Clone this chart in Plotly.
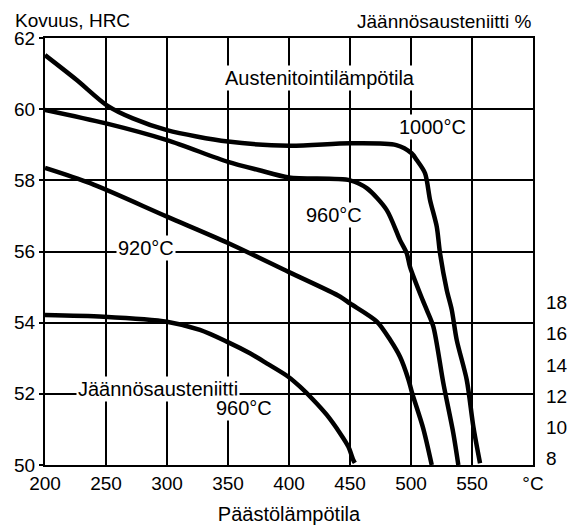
import plotly.graph_objects as go

FONT = "Liberation Sans, Arial, sans-serif"

# Hardness curves (HRC) vs tempering temperature (°C)
t_1000 = [200, 226, 251, 272, 300, 350, 400, 450, 488, 500.5, 504.7, 511.5, 515.6, 521.1, 523.8, 529.3, 533.4, 537.5, 545.7, 551.1, 556.6]
hrc_1000 = [61.52, 60.82, 60.1, 59.74, 59.41, 59.09, 58.97, 59.04, 58.99, 58.76, 58.57, 58.2, 57.45, 56.7, 55.95, 54.92, 54.36, 53.51, 52.39, 51.08, 50.05]

t_960 = [200, 250, 300, 350, 375, 400, 450, 463.7, 480, 491, 496.5, 499.2, 509.5, 512.9, 518.3, 526.5, 534.7, 538.8]
hrc_960 = [59.98, 59.6, 59.13, 58.52, 58.29, 58.08, 58.0, 57.78, 57.17, 56.32, 55.95, 55.57, 54.64, 54.36, 53.89, 52.3, 50.89, 50.0]

t_920 = [200, 237, 300, 350, 400, 442, 450, 472, 483, 491, 498, 501, 510, 517]
hrc_920 = [58.35, 57.92, 56.98, 56.24, 55.42, 54.73, 54.54, 54.03, 53.51, 53.04, 52.39, 52.01, 51.03, 50.0]

# Retained austenite (%) for 960 °C austenitizing, right axis
t_ra = [200, 248, 300, 327, 349, 368, 381.7, 399.4, 409, 420, 431, 441.8, 448.6, 452.7, 454]
ra_pct = [17.2, 17.09, 16.77, 16.24, 15.49, 14.74, 14.1, 13.24, 12.6, 11.75, 10.79, 9.62, 8.76, 7.9, 7.71]

x_ticks = [200, 250, 300, 350, 400, 450, 500, 550, 600]
x_ticktext = ["200", "250", "300", "350", "400", "450", "500", "550", "°C"]
y_ticks = [50, 52, 54, 56, 58, 60, 62]
y2_ticks = [8, 10, 12, 14, 16, 18]

fig = go.Figure()
line = dict(color="black", width=4.5, shape="spline", smoothing=0.8)
for xs, ys in [(t_1000, hrc_1000), (t_960, hrc_960), (t_920, hrc_920)]:
    fig.add_trace(go.Scatter(x=xs, y=ys, mode="lines", line=line, showlegend=False, hoverinfo="skip"))
fig.add_trace(go.Scatter(x=t_ra, y=ra_pct, mode="lines", line=line, yaxis="y2", showlegend=False, hoverinfo="skip"))

tick_font = dict(family=FONT, size=19, color="black")
axis_common = dict(showgrid=True, gridcolor="black", gridwidth=1.6, showline=True, linecolor="black",
                   linewidth=2, mirror=True, zeroline=False, automargin=False, tickfont=tick_font)

# page body has an 8px default margin, so the figure is drawn 8px smaller
fig.update_layout(
    width=571, height=518,
    margin=dict(l=37, r=46, t=30, b=61, autoexpand=False),
    paper_bgcolor="white", plot_bgcolor="white",
    font=dict(family=FONT, size=20, color="black"),
    xaxis=dict(range=[200, 600], tickvals=x_ticks, ticktext=x_ticktext, ticks="", **axis_common,
               title=dict(text="Päästölämpötila", font=dict(family=FONT, size=20), standoff=14)),
    yaxis=dict(range=[50, 62], tickvals=y_ticks, ticks="outside", ticklen=4, tickcolor="black",
               tickwidth=2, **axis_common),
    yaxis2=dict(range=[7.58, 34.96], tickvals=y2_ticks, overlaying="y", side="right", showgrid=False,
                zeroline=False, showline=False, ticks="", ticklabelstandoff=12, automargin=False,
                tickfont=tick_font),
)

ann_font = dict(family=FONT, size=20, color="black")
labels = [
    ("Austenitointilämpötila", 425.4, 60.88),
    ("1000°C", 517.6, 59.51),
    ("960°C", 436.5, 57.03),
    ("920°C", 282.8, 56.11),
    ("Jäännösausteniitti", 292.6, 52.13),
    ("960°C", 363.1, 51.59),
]
for text, x, y in labels:
    fig.add_annotation(x=x, y=y, xref="x", yref="y", text=text, showarrow=False,
                       font=ann_font, bgcolor="white", borderpad=1)

head_font = dict(family=FONT, size=19, color="black")
fig.add_annotation(x=(13 - 45) / 488, y=(465 - 8) / 427, xref="paper", yref="paper", text="Kovuus, HRC",
                   showarrow=False, font=head_font, xanchor="left", yanchor="top")
fig.add_annotation(x=1.0, y=(465 - 9) / 427, xref="paper", yref="paper", text="Jäännösausteniitti %",
                   showarrow=False, font=head_font, xanchor="right", yanchor="top")

fig.write_html("out.html")
